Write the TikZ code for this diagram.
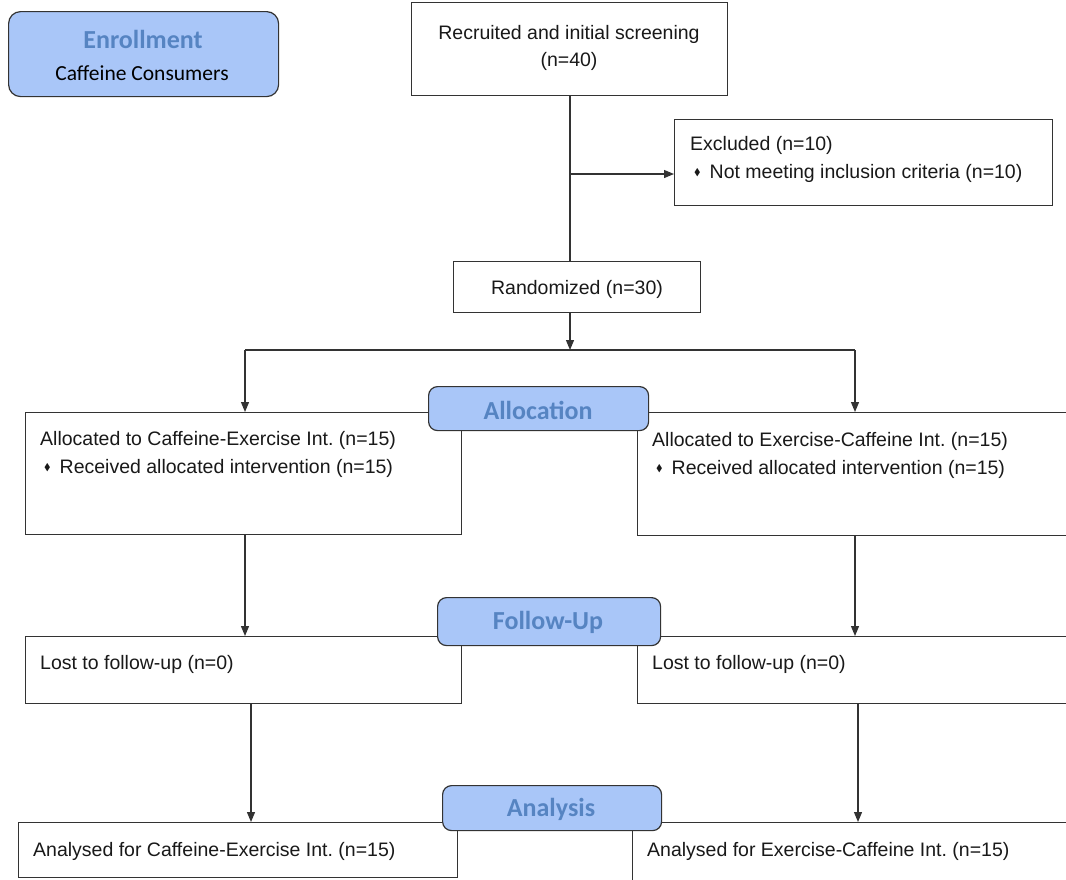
\documentclass[tikz,border=0pt]{standalone}
\usepackage{fontspec}
\usepackage{amssymb}
\setmainfont{Liberation Sans}
\newfontfamily\carl{Carlito}
\usetikzlibrary{arrows.meta}
\definecolor{lblfill}{HTML}{A9C6F8}
\definecolor{lbltext}{HTML}{5684C2}
\definecolor{edgec}{HTML}{333333}
\frenchspacing
\newcommand\bul{\hspace{4pt}\raisebox{3pt}{\scalebox{0.5}{$\blacklozenge$}}\hspace{9pt}}
\tikzset{
  box/.style={draw=edgec, line width=1.2pt, fill=white, inner sep=0pt, anchor=north west},
  lbl/.style={draw=edgec, line width=1.2pt, fill=lblfill, rounded corners=9pt, inner sep=0pt, anchor=north west},
  lbltxt/.style={inner sep=0pt, text=lbltext, font=\carl\bfseries\fontsize{26}{30}\selectfont},
  txt/.style={inner sep=0pt, font=\frenchspacing\fontsize{19.5}{28}\selectfont, text=black!90},
  conn/.style={draw=edgec, line width=1.2pt},
  arr/.style={conn, -{Triangle[length=10pt,width=8pt]}},
}
\begin{document}
\begin{tikzpicture}[x=1pt,y=-1pt]
\clip (0,0) rectangle (1066,879);
\fill[white] (0,0) rectangle (1066,879);

% Enrollment
\node[box, rounded corners=12pt, fill=lblfill, minimum width=270, minimum height=85] (enr) at (8,11) {};
\node[lbltxt] (enrt) at (143,39) {Enrollment};
\node[inner sep=0pt, font=\carl\fontsize{21.5}{24}\selectfont] (enrs) at (142,73) {Caffeine Consumers};

% top boxes
\node[box, minimum width=316, minimum height=93] (rec) at (411,2) {};
\node[txt, align=center, font=\fontsize{19.5}{27}\selectfont] (rect) at (569,48) {Recruited and initial screening\\(n=40)};

\node[box, minimum width=378, minimum height=86] (exc) at (674,119) {};
\node[txt, align=left, anchor=west] (exct) at (690,159) {Excluded (n=10)\\\bul Not meeting inclusion criteria (n=10)};

\node[box, minimum width=247, minimum height=51] (rand) at (453,261) {};
\node[txt] (randt) at (577,289) {Randomized (n=30)};

% allocation boxes
\node[box, minimum width=436, minimum height=122] (aL) at (25,412) {};
\node[box, minimum width=440, minimum height=123] (aR) at (637,412) {};
\node[txt, align=left, anchor=west] (aLt) at (40,454) {Allocated to Caffeine-Exercise Int. (n=15)\\\bul Received allocated intervention (n=15)};
\node[txt, align=left, anchor=west] (aRt) at (652,455) {Allocated to Exercise-Caffeine Int. (n=15)\\\bul Received allocated intervention (n=15)};

% follow-up boxes
\node[box, minimum width=436, minimum height=67] (fL) at (25,636) {};
\node[box, minimum width=440, minimum height=67] (fR) at (637,636) {};
\node[txt, anchor=west] (fLt) at (40,664) {Lost to follow-up (n=0)};
\node[txt, anchor=west] (fRt) at (652,664) {Lost to follow-up (n=0)};

% analysis boxes
\node[box, minimum width=439, minimum height=55] (nL) at (18,822) {};
\node[box, minimum width=445, minimum height=70] (nR) at (632,822) {};
\node[txt, anchor=west] (nLt) at (33,851) {Analysed for Caffeine-Exercise Int. (n=15)};
\node[txt, anchor=west] (nRt) at (647,851) {Analysed for Exercise-Caffeine Int. (n=15)};

% connectors
\coordinate (br) at (570,174);
\coordinate (sp) at (570,350);
\coordinate (cL) at (245,350);
\coordinate (cR) at (855,350);
\coordinate (dL) at (251,703);
\coordinate (dR) at (858,703);

\draw[conn] (rec.south -| br) -- (rand.north -| br);
\draw[arr] (br) -- (exc.west |- br);
\draw[arr] (rand.south -| sp) -- (sp);
\draw[conn] (cL) -- (cR);
\draw[arr] (cL) -- (cL |- aL.north);
\draw[arr] (cR) -- (cR |- aR.north);
\draw[arr] (cL |- aL.south) -- (cL |- fL.north);
\draw[arr] (cR |- aR.south) -- (cR |- fR.north);
\draw[arr] (dL |- fL.south) -- (dL |- nL.north);
\draw[arr] (dR |- fR.south) -- (dR |- nR.north);

% stage labels
\node[lbl, minimum width=220, minimum height=44] (alloc) at (428,386) {};
\node[lbltxt] (allocT) at (538,410) {Allocation};
\node[lbl, minimum width=223, minimum height=48] (fup) at (437,597) {};
\node[lbltxt] (fupT) at (548,622) {Follow-Up};
\node[lbl, minimum width=219, minimum height=45] (ana) at (442,785) {};
\node[lbltxt] (anaT) at (551,809) {Analysis};
\end{tikzpicture}
\end{document}
